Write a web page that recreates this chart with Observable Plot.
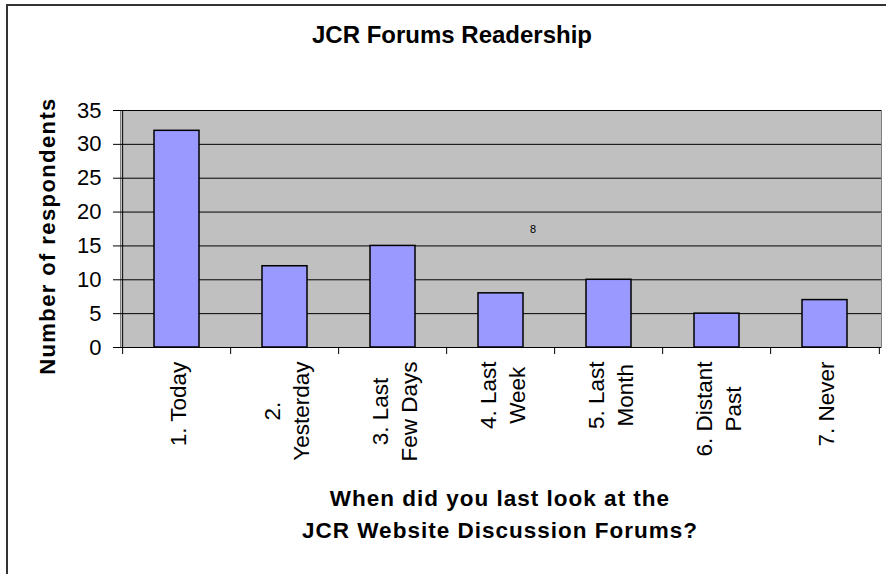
<!DOCTYPE html>
<html><head><meta charset="utf-8">
<script src="https://cdn.jsdelivr.net/npm/d3@7"></script>
<script src="https://cdn.jsdelivr.net/npm/@observablehq/plot@0.6"></script>
<style>
body{margin:0;background:#fff;font-family:"Liberation Sans",Arial,sans-serif;}
#wrap{position:relative;width:886px;height:574px;overflow:hidden;background:#fff;}
#border{position:absolute;left:6px;top:4px;width:900px;height:600px;border-left:2px solid #333;border-top:2px solid #333;}
#chart{position:absolute;left:0;top:0;}
#title{position:absolute;left:0;width:904px;top:23px;text-align:center;font-weight:bold;font-size:24px;line-height:23px;white-space:nowrap;}
#ytitle{position:absolute;left:47px;top:236px;transform:translate(-50%,-50%) rotate(-90deg);font-weight:bold;font-size:22px;letter-spacing:1.4px;white-space:nowrap;line-height:21px;}
#xtitle{position:absolute;left:0;width:1000px;top:483px;text-align:center;font-weight:bold;font-size:22.5px;line-height:32px;letter-spacing:1px;white-space:nowrap;}
</style></head>
<body>
<div id="wrap">
  <div id="border"></div>
  <div id="chart"></div>
  <div id="title">JCR Forums Readership</div>
  <div id="ytitle">Number of respondents</div>
  <div id="xtitle">When did you last look at the<br>JCR Website Discussion Forums?</div>
</div>
<script>
// ---- data ----
const categories = ["1. Today", "2.\nYesterday", "3. Last\nFew Days", "4. Last\nWeek", "5. Last\nMonth", "6. Distant\nPast", "7. Never"];
const respondents = [32, 12, 15, 8, 10, 5, 7];
const yTicks = [0, 5, 10, 15, 20, 25, 30, 35];
const strayLabelCategory = ["4. Last\nWeek"];
const strayLabelValue = [17.5];
const strayLabelText = ["8"];

const data = categories.map((c, i) => ({cat: c, value: respondents[i]}));
const stray = strayLabelCategory.map((c, i) => ({cat: c, y: strayLabelValue[i], text: strayLabelText[i]}));

// ---- layout ----
const W = 886, H = 574;
const ml = 120, mr = 5, mt = 110, mb = H - 347;
const pad = 0.585;
const step = (W - ml - mr) / categories.length;
const frameH = H - mt - mb;
const labelFont = 22.5;
const labelTop = 361;

const ctx = document.createElement("canvas").getContext("2d");
ctx.font = `${labelFont}px "Liberation Sans", Arial, sans-serif`;

const labelMarks = categories.map(c => {
  const lines = c.split("\n");
  const maxLen = Math.max(...lines.map(l => ctx.measureText(l).width));
  return Plot.text([c], {
    x: d => d, text: d => d, frameAnchor: "bottom", rotate: -90,
    textAnchor: "middle", lineAnchor: "middle", lineHeight: 1.3,
    fontSize: labelFont, fill: "#000",
    dy: labelTop - (H - mb) + maxLen / 2
  });
});

const chart = Plot.plot({
  width: W, height: H,
  marginTop: mt, marginBottom: mb, marginLeft: ml, marginRight: mr,
  style: {fontFamily: "'Liberation Sans', Arial, sans-serif", fontSize: "22px", background: "transparent", color: "#000", overflow: "visible"},
  x: {domain: categories, paddingInner: pad, paddingOuter: pad / 2, axis: null},
  y: {domain: [0, 35], axis: null},
  marks: [
    Plot.frame({fill: "#C0C0C0", stroke: "#808080"}),
    Plot.gridY(yTicks, {stroke: "#000", strokeOpacity: 1, strokeWidth: 1}),
    Plot.barY(data, {x: "cat", y: "value", fill: "#9999FF", stroke: "#000", strokeWidth: 1.5}),
    // y axis line
    Plot.ruleX([categories[0]], {x: d => d, dx: -step / 2, stroke: "#000", strokeWidth: 1}),
    // x axis line
    Plot.ruleY([0], {stroke: "#000", strokeWidth: 1}),
    // category boundary ticks
    Plot.ruleX(categories, {x: d => d, dx: -step / 2, insetTop: frameH, insetBottom: -7, stroke: "#000"}),
    Plot.ruleX([categories[categories.length - 1]], {x: d => d, dx: step / 2, insetTop: frameH, insetBottom: -7, stroke: "#000"}),
    Plot.axisY(yTicks, {tickSize: 7, tickPadding: 12, fontSize: 22, stroke: "#000", fill: "#000"}),
    ...labelMarks,
    Plot.text(stray, {x: "cat", y: "y", text: "text", dx: 32, fontSize: 11, fill: "#000"})
  ]
});
document.getElementById("chart").appendChild(chart);
</script>
</body></html>
